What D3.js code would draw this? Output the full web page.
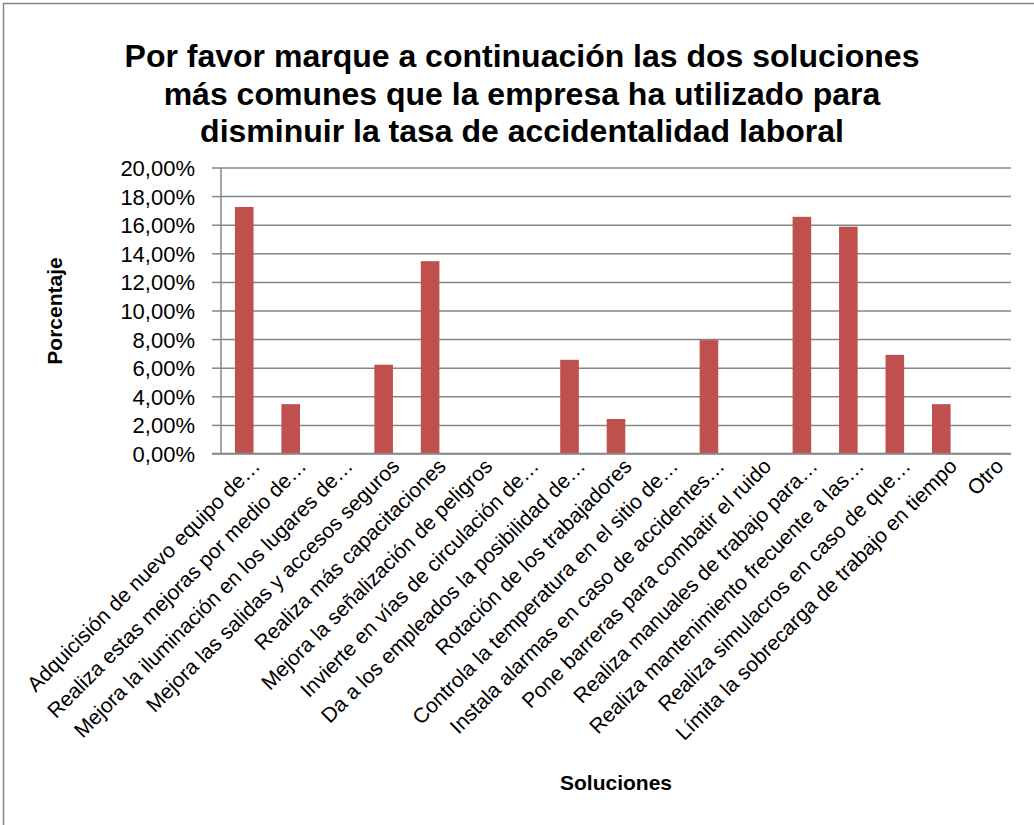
<!DOCTYPE html>
<html>
<head>
<meta charset="utf-8">
<script src="https://cdn.jsdelivr.net/npm/d3@7"></script>
<style>
  body { margin: 0; background: #fff; }
  text { font-family: "Liberation Sans", Arial, sans-serif; }
</style>
</head>
<body>
<div id="chart"></div>
<script>
// --- DATOS ---
const categorias = [
    'Adquicisión de nuevo equipo de…',
    'Realiza estas mejoras por medio de…',
    'Mejora la iluminación en los lugares de…',
    'Mejora las salidas y accesos seguros',
    'Realiza más capacitaciones',
    'Mejora la señalización de peligros',
    'Invierte en vías de circulación de…',
    'Da a los empleados la posibilidad de…',
    'Rotación de los trabajadores',
    'Controla la temperatura en el sitio de…',
    'Instala alarmas en caso de accidentes…',
    'Pone barreras para combatir el ruido',
    'Realiza manuales de trabajo para…',
    'Realiza mantenimiento frecuente a las…',
    'Realiza simulacros en caso de que…',
    'Límita la sobrecarga de trabajo en tiempo',
    'Otro'
];
// porcentaje de respuestas
const porcentajes = [17.24, 3.45, 0, 6.21, 13.45, 0, 0, 6.55, 2.41, 0, 7.93, 0, 16.55, 15.86, 6.90, 3.45, 0];
const ticksY = [0, 2, 4, 6, 8, 10, 12, 14, 16, 18, 20];
const tituloLineas = [
    'Por favor marque a continuación las dos soluciones',
    'más comunes que la empresa ha utilizado para',
    'disminuir la tasa de accidentalidad laboral'
];

const W = 1034, H = 825;
const margin = { top: 167.5, right: 23, bottom: 371.5, left: 221 };
const width = W - margin.left - margin.right;
const height = H - margin.top - margin.bottom;

const svg = d3.select('#chart').append('svg')
    .attr('width', W).attr('height', H);

// marco del gráfico
svg.append('rect')
    .attr('x', 3.5).attr('y', 3.5)
    .attr('width', W + 20).attr('height', H + 20)
    .attr('fill', 'none').attr('stroke', '#868686').attr('stroke-width', 1.5);

// título
svg.append('text')
    .attr('text-anchor', 'middle')
    .style('font-weight', 'bold').style('font-size', '32px')
    .selectAll('tspan').data(tituloLineas).join('tspan')
    .attr('x', 522).attr('y', (d, i) => 67 + i * 37.5)
    .text(d => d);

const g = svg.append('g').attr('transform', `translate(${margin.left},${margin.top})`);

const x = d3.scaleBand().domain(categorias).range([0, width]).paddingInner(0.6).paddingOuter(0.3);
const y = d3.scaleLinear().domain([0, 20]).range([height, 0]);

// rejilla
g.append('g')
    .call(d3.axisLeft(y).tickValues(ticksY).tickSize(-width).tickFormat(''))
    .call(s => s.select('.domain').remove())
    .selectAll('line').attr('stroke', '#868686').attr('stroke-width', 1.5);

// eje Y
const yAxis = g.append('g')
    .call(d3.axisLeft(y).tickValues(ticksY).tickSize(9).tickPadding(17)
        .tickFormat(d => d.toFixed(2).replace('.', ',') + '%'));
yAxis.select('.domain').attr('stroke', '#868686').attr('stroke-width', 1.5).attr('d', `M0,0V${height}`);
yAxis.selectAll('line').attr('stroke', '#868686').attr('stroke-width', 1.5);
yAxis.selectAll('text')
    .style('font-size', '22px').attr('fill', '#000').attr('dy', '0.36em');

// barras
g.selectAll('.bar').data(porcentajes).join('rect')
    .attr('class', 'bar')
    .attr('x', (d, i) => x(categorias[i]))
    .attr('width', x.bandwidth())
    .attr('y', d => y(d))
    .attr('height', d => height - y(d))
    .attr('fill', '#C0504D');

// eje X
g.append('line')
    .attr('x1', -9).attr('x2', width)
    .attr('y1', height).attr('y2', height)
    .attr('stroke', '#868686').attr('stroke-width', 1.5);

g.selectAll('.cat').data(categorias).join('text')
    .attr('class', 'cat')
    .attr('transform', d => `translate(${x(d) + x.bandwidth() / 2 + 17},${height + 14}) rotate(-45)`)
    .attr('text-anchor', 'end')
    .style('font-size', '21px')
    .text(d => d);

// títulos de ejes
svg.append('text')
    .attr('transform', 'translate(62,311) rotate(-90)')
    .attr('text-anchor', 'middle')
    .style('font-weight', 'bold').style('font-size', '21px')
    .text('Porcentaje');

svg.append('text')
    .attr('x', 616).attr('y', 790)
    .attr('text-anchor', 'middle')
    .style('font-weight', 'bold').style('font-size', '21px')
    .text('Soluciones');
</script>
</body>
</html>
